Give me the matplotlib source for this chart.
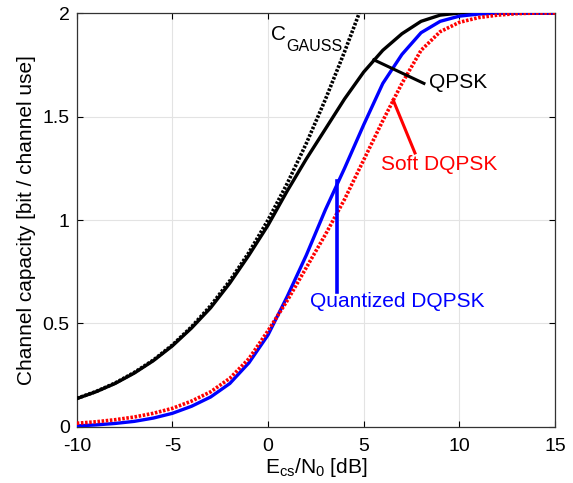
import numpy as np
import matplotlib
matplotlib.use("Agg")
import matplotlib.pyplot as plt

# === Data ===
snr_db = [-10, -9, -8, -7, -6, -5, -4, -3, -2, -1, 0, 1, 2, 3, 4, 5, 6, 7, 8, 9, 10, 11, 12, 13, 14, 15]

gauss_db = [-10, -9, -8, -7, -6, -5, -4, -3, -2, -1, 0, 1, 2, 3, 4, 4.77]
gauss_cap = [0.138, 0.171, 0.212, 0.263, 0.323, 0.396, 0.484, 0.586, 0.706, 0.843,
             1.0, 1.176, 1.370, 1.583, 1.813, 2.0]

qpsk_cap = [0.137, 0.170, 0.210, 0.260, 0.320, 0.392, 0.478, 0.576, 0.695, 0.830,
            0.975, 1.14, 1.295, 1.44, 1.585, 1.715, 1.82, 1.90, 1.96, 1.99,
            2.0, 2.0, 2.0, 2.0, 2.0, 2.0]

soft_dqpsk = [0.018, 0.025, 0.035, 0.048, 0.066, 0.090, 0.125, 0.170, 0.235, 0.330,
              0.465, 0.61, 0.77, 0.93, 1.10, 1.29, 1.48, 1.66, 1.82, 1.91,
              1.955, 1.978, 1.99, 1.997, 2.0, 2.0]

quant_dqpsk = [0.005, 0.010, 0.017, 0.027, 0.043, 0.066, 0.100, 0.145, 0.210, 0.310,
               0.445, 0.63, 0.83, 1.05, 1.25, 1.46, 1.66, 1.80, 1.905, 1.96,
               1.985, 1.995, 2.0, 2.0, 2.0, 2.0]

# === Style ===
plt.rcParams["font.family"] = ["Liberation Sans", "DejaVu Sans"]
plt.rcParams["mathtext.fontset"] = "custom"
plt.rcParams["mathtext.rm"] = "Liberation Sans"
plt.rcParams["mathtext.it"] = "Liberation Sans"
plt.rcParams["axes.unicode_minus"] = False

fig = plt.figure(figsize=(5.73, 4.83), dpi=100)
ax = fig.add_axes([0.134, 0.116, 0.8345, 0.857])

dots = (0, (0.7, 0.45))
ax.plot(gauss_db, gauss_cap, color="black", lw=2.6, ls=dots, zorder=3)
ax.plot(snr_db, qpsk_cap, color="black", lw=2.4, zorder=3)
ax.plot(snr_db, quant_dqpsk, color="#0000ff", lw=2.4, zorder=3)
ax.plot(snr_db, soft_dqpsk, color="#ff0000", lw=2.6, ls=dots, zorder=4)

# === Annotations ===
ax.text(0.15, 1.894, "C", fontsize=15, va="center", ha="left")
ax.text(0.95, 1.84, "GAUSS", fontsize=11.5, va="center", ha="left")

ax.plot([5.53, 8.15], [1.774, 1.66], color="black", lw=2.2, zorder=5)
ax.text(8.42, 1.662, "QPSK", fontsize=15, va="center", ha="left")

ax.plot([6.54, 7.68], [1.58, 1.324], color="#ff0000", lw=2.2, zorder=5)
ax.text(5.92, 1.266, "Soft DQPSK", fontsize=15, va="center", ha="left", color="#ff0000")

ax.plot([3.6, 3.6], [1.19, 0.652], color="#0000ff", lw=2.6, zorder=5)
ax.text(2.17, 0.605, "Quantized DQPSK", fontsize=15, va="center", ha="left", color="#0000ff")

# === Axes ===
ax.set_xlim(-10, 15)
ax.set_ylim(0, 2)
ax.set_xticks([-10, -5, 0, 5, 10, 15])
ax.set_yticks([0, 0.5, 1, 1.5, 2])
ax.set_yticklabels(["0", "0.5", "1", "1.5", "2"])
ax.tick_params(direction="in", top=True, right=True, labelsize=14, length=4)
ax.tick_params(axis="x", pad=8)
ax.tick_params(axis="y", pad=5)
ax.grid(True, color="#e3e3e3", lw=0.8)
ax.set_axisbelow(True)
for s in ax.spines.values():
    s.set_color("#333333")
    s.set_linewidth(0.9)

ax.set_xlabel(r"E$_{\mathrm{cs}}$/N$_0$ [dB]", fontsize=15, labelpad=1)
ax.set_ylabel("Channel capacity [bit / channel use]", fontsize=15, labelpad=5)

fig.savefig("out.png", dpi=100)
